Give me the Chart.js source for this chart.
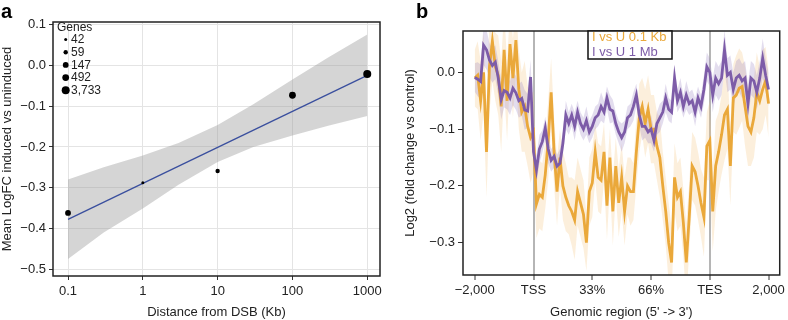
<!DOCTYPE html>
<html>
<head>
<meta charset="utf-8">
<script src="https://cdn.jsdelivr.net/npm/chart.js@4.4.1/dist/chart.umd.min.js"></script>
<style>
  html, body { margin: 0; padding: 0; background: #fff; }
  #wrap { position: relative; width: 788px; height: 320px; }
  #wrap canvas { position: absolute; top: 0; }
  #chartA { left: 0; }
  #chartB { left: 394px; }
</style>
</head>
<body>
<div id="wrap">
  <canvas id="chartA" width="394" height="320"></canvas>
  <canvas id="chartB" width="394" height="320"></canvas>
</div>
<script>
// ---- panel a: mean logFC by distance from DSB ----
const distKb = [0.1, 1, 10, 100, 1000];
const meanLogFC = [-0.362, -0.288, -0.259, -0.073, -0.021];
const geneCounts = [147, 42, 59, 492, 3733];
const legendCounts = [42, 59, 147, 492, 3733];
const fitX = [0.1, 1000];
const fitY = [-0.378, -0.024];
const bandX = [0.1, 0.3, 1, 3, 10, 30, 100, 300, 1000];
const bandUpper = [-0.280, -0.250, -0.221, -0.190, -0.146, -0.095, -0.034, 0.020, 0.076];
const bandLower = [-0.475, -0.410, -0.351, -0.293, -0.237, -0.200, -0.172, -0.148, -0.124];
const xTicksA = [0.1, 1, 10, 100, 1000];
const xTickLabelsA = ['0.1', '1', '10', '100', '1000'];
const yTicksA = [0.1, 0, -0.1, -0.2, -0.3, -0.4, -0.5];

// ---- panel b: profile over genomic region ----
const regionTicks = [0, 1, 2, 3, 4, 5];
const regionLabels = ['\u22122,000', 'TSS', '33%', '66%', 'TES', '2,000'];
const yTicksB = [0, -0.1, -0.2, -0.3];
const seriesNames = ['I vs U 0.1 Kb', 'I vs U 1 Mb'];
const orangeValues = [
  -0.010, -0.005, -0.050, 0.000, -0.140, 0.010, 0.055, 0.010, -0.005, -0.060,
  0.040, -0.050, 0.050, -0.010, 0.057, -0.030, -0.070, -0.060, -0.095, -0.115,
  -0.105, -0.232, -0.215, -0.220, -0.180, -0.120, -0.035, -0.140, -0.210, -0.150,
  -0.200, -0.220, -0.235, -0.245, -0.260, -0.210, -0.230, -0.250, -0.300, -0.210,
  -0.195, -0.140, -0.185, -0.190, -0.140, -0.235, -0.150, -0.245, -0.165, -0.230,
  -0.185, -0.245, -0.200, -0.210, -0.210, -0.140, -0.080, -0.060, -0.090, -0.065,
  -0.100, -0.100, -0.130, -0.150, -0.200, -0.245, -0.300, -0.335, -0.185, -0.220,
  -0.210, -0.265, -0.335, -0.255, -0.165, -0.175, -0.200, -0.230, -0.255, -0.130,
  -0.120, -0.245, -0.165, -0.140, -0.110, -0.075, -0.065, -0.165, -0.045, -0.040,
  -0.028, -0.025, -0.060, -0.095, -0.105, -0.080, -0.035, -0.050, -0.030, -0.015,
  -0.055
];
const orangeSE = [
  0.05, 0.06, 0.07, 0.07, 0.08, 0.08, 0.07, 0.06, 0.07, 0.08,
  0.07, 0.07, 0.06, 0.07, 0.06, 0.07, 0.07, 0.08, 0.07, 0.08,
  0.07, 0.06, 0.06, 0.06, 0.06, 0.07, 0.06, 0.06, 0.06, 0.05,
  0.06, 0.06, 0.05, 0.06, 0.07, 0.06, 0.06, 0.06, 0.05, 0.06,
  0.06, 0.05, 0.06, 0.06, 0.05, 0.06, 0.05, 0.06, 0.05, 0.06,
  0.06, 0.06, 0.05, 0.06, 0.05, 0.06, 0.06, 0.05, 0.06, 0.06,
  0.06, 0.06, 0.06, 0.07, 0.06, 0.06, 0.07, 0.06, 0.06, 0.06,
  0.06, 0.06, 0.07, 0.06, 0.06, 0.06, 0.06, 0.06, 0.07, 0.06,
  0.07, 0.07, 0.08, 0.07, 0.07, 0.08, 0.07, 0.07, 0.06, 0.07,
  0.07, 0.06, 0.07, 0.07, 0.06, 0.07, 0.07, 0.06, 0.07, 0.06,
  0.06
];
const purpleValues = [
  -0.009, -0.012, -0.016, 0.048, 0.040, 0.022, 0.012, 0.018, -0.010, -0.048,
  -0.032, -0.035, -0.045, -0.028, -0.036, -0.050, -0.046, -0.066, -0.068, -0.008,
  -0.140, -0.172, -0.135, -0.122, -0.098, -0.135, -0.155, -0.148, -0.165, -0.160,
  -0.125, -0.075, -0.090, -0.075, -0.095, -0.070, -0.090, -0.100, -0.085, -0.105,
  -0.095, -0.080, -0.075, -0.060, -0.070, -0.045, -0.065, -0.068, -0.090, -0.105,
  -0.115, -0.105, -0.080, -0.075, -0.060, -0.040, -0.075, -0.095, -0.095, -0.105,
  -0.100, -0.120, -0.090, -0.080, -0.070, -0.045, -0.065, -0.070, -0.010, -0.050,
  -0.035, -0.060, -0.040, -0.055, -0.050, -0.070, -0.045, -0.060, -0.030, 0.010,
  0.000, -0.040, -0.010, -0.020, -0.010, 0.040, -0.005, 0.000, -0.030, -0.010,
  -0.005, -0.015, -0.010, -0.055, -0.010, -0.015, -0.035, -0.010, 0.025, -0.005,
  -0.030
];
const purpleSE = [
  0.025, 0.03, 0.03, 0.035, 0.035, 0.03, 0.03, 0.03, 0.03, 0.035,
  0.03, 0.03, 0.03, 0.03, 0.03, 0.03, 0.03, 0.035, 0.03, 0.03,
  0.03, 0.025, 0.025, 0.02, 0.02, 0.025, 0.02, 0.02, 0.02, 0.025,
  0.02, 0.025, 0.02, 0.02, 0.025, 0.02, 0.02, 0.02, 0.025, 0.02,
  0.02, 0.02, 0.02, 0.025, 0.02, 0.02, 0.025, 0.02, 0.02, 0.02,
  0.025, 0.02, 0.02, 0.02, 0.025, 0.02, 0.02, 0.025, 0.02, 0.02,
  0.025, 0.02, 0.02, 0.025, 0.02, 0.025, 0.02, 0.02, 0.025, 0.02,
  0.025, 0.02, 0.025, 0.02, 0.02, 0.025, 0.02, 0.02, 0.025, 0.025,
  0.025, 0.03, 0.03, 0.03, 0.03, 0.035, 0.03, 0.03, 0.03, 0.03,
  0.03, 0.03, 0.03, 0.035, 0.03, 0.03, 0.03, 0.03, 0.035, 0.03,
  0.03
];

// styles
const FONT = "'Liberation Sans', Arial, Helvetica, sans-serif";
Chart.defaults.font.family = FONT;
Chart.defaults.font.size = 13;
Chart.defaults.color = '#222';
const dotRadius = {42: 1.5, 59: 2.2, 147: 2.9, 492: 3.4, 3733: 4.0};
const ORANGE = 'rgb(234,168,58)';
const PURPLE = 'rgb(125,92,168)';

// bins are evenly spaced, 20 per axis unit
const binPos = orangeValues.map((_, i) => i / 20);
const pts = (xs, ys) => xs.map((x, i) => ({x: x, y: ys[i]}));
const fmtY = v => (v < 0 ? '\u2212' : '') + Math.abs(v).toFixed(1);

const framePlugin = {
  id: 'frame',
  afterDatasetsDraw(chart) {
    const {ctx, chartArea: a} = chart;
    ctx.save();
    ctx.strokeStyle = '#222';
    ctx.lineWidth = 1.5;
    ctx.strokeRect(a.left, a.top, a.right - a.left, a.bottom - a.top);
    ctx.restore();
  }
};

function letterPlugin(letter, x, y) {
  return {
    id: 'letter',
    afterDraw(chart) {
      const ctx = chart.ctx;
      ctx.save();
      ctx.font = 'bold 20px ' + FONT;
      ctx.fillStyle = '#000';
      ctx.fillText(letter, x, y);
      ctx.restore();
    }
  };
}

const genesLegend = {
  id: 'genesLegend',
  afterDraw(chart) {
    const {ctx, chartArea: a} = chart;
    ctx.save();
    ctx.font = '12px ' + FONT;
    ctx.fillStyle = '#222';
    ctx.textBaseline = 'middle';
    ctx.fillText('Genes', a.left + 4, a.top + 5.5);
    legendCounts.forEach((n, i) => {
      const y = a.top + 17.5 + i * 12.7;
      ctx.beginPath();
      ctx.arc(a.left + 12.7, y, dotRadius[n], 0, Math.PI * 2);
      ctx.fillStyle = '#000';
      ctx.fill();
      ctx.fillStyle = '#222';
      ctx.fillText(n.toLocaleString('en-US'), a.left + 18, y + 0.5);
    });
    ctx.restore();
  }
};

const boxLegend = {
  id: 'boxLegend',
  afterDraw(chart) {
    const {ctx, chartArea: a} = chart;
    const x0 = a.left + 125, y0 = a.top, w = 84, h = 28;
    ctx.save();
    ctx.fillStyle = '#fff';
    ctx.fillRect(x0, y0, w, h);
    ctx.strokeStyle = '#111';
    ctx.lineWidth = 1.5;
    ctx.strokeRect(x0, y0, w, h);
    ctx.font = '13px ' + FONT;
    ctx.textBaseline = 'middle';
    ctx.fillStyle = ORANGE;
    ctx.fillText(seriesNames[0], x0 + 4, y0 + 6.5);
    ctx.fillStyle = PURPLE;
    ctx.fillText(seriesNames[1], x0 + 4, y0 + 21);
    ctx.restore();
  }
};

// ---------- chart a ----------
new Chart(document.getElementById('chartA'), {
  type: 'line',
  data: {
    datasets: [
      {
        data: pts(bandX, bandUpper), fill: '+1', order: 4,
        backgroundColor: 'rgba(150,150,150,0.4)', borderColor: 'transparent',
        pointRadius: 0, tension: 0
      },
      {
        data: pts(bandX, bandLower), fill: false, order: 5,
        borderColor: 'transparent', pointRadius: 0, tension: 0
      },
      {
        data: pts(fitX, fitY), order: 2, borderColor: '#3a4f9e', borderWidth: 1.3,
        pointRadius: 0, fill: false
      },
      {
        data: pts(distKb, meanLogFC), order: 1, showLine: false,
        pointRadius: geneCounts.map(n => dotRadius[n]),
        pointBackgroundColor: '#000', pointBorderWidth: 0, pointBorderColor: '#000'
      }
    ]
  },
  options: {
    responsive: false,
    animation: false,
    events: [],
    layout: {padding: {top: 22, right: 14, left: 0, bottom: 0}},
    plugins: {legend: {display: false}, tooltip: {enabled: false}},
    scales: {
      x: {
        type: 'logarithmic',
        min: 0.063, max: 1480,
        afterBuildTicks: s => { s.ticks = xTicksA.map(v => ({value: v})); },
        afterFit: s => { s.height = 44; },
        ticks: {
          autoSkip: false, maxRotation: 0, padding: 4,
          callback: v => xTickLabelsA[xTicksA.indexOf(v)] ?? ''
        },
        grid: {color: '#e4e4e4', lineWidth: 1, tickColor: '#333', tickLength: 4, tickWidth: 1},
        border: {display: false},
        title: {display: true, text: 'Distance from DSB (Kb)', padding: {top: 0, bottom: 0}}
      },
      y: {
        min: -0.517, max: 0.107,
        afterBuildTicks: s => { s.ticks = yTicksA.map(v => ({value: v})); },
        afterFit: s => { s.width = 53; },
        ticks: {padding: 3, callback: v => fmtY(v)},
        grid: {color: '#e4e4e4', lineWidth: 1, tickColor: '#333', tickLength: 4, tickWidth: 1},
        border: {display: false},
        title: {display: true, text: 'Mean LogFC induced vs uninduced', padding: {top: 0, bottom: 0}}
      }
    }
  },
  plugins: [framePlugin, genesLegend, letterPlugin('a', 1, 18)]
});

// ---------- chart b ----------
const band = (vals, se, sign) => vals.map((v, i) => v + sign * se[i]);

new Chart(document.getElementById('chartB'), {
  type: 'line',
  data: {
    datasets: [
      {
        data: pts(binPos, band(orangeValues, orangeSE, 1)), fill: '+1', order: 10,
        backgroundColor: 'rgba(246,203,140,0.3)', borderColor: 'transparent',
        pointRadius: 0, tension: 0
      },
      {
        data: pts(binPos, band(orangeValues, orangeSE, -1)), fill: false, order: 11,
        borderColor: 'transparent', pointRadius: 0, tension: 0
      },
      {
        data: pts(binPos, band(purpleValues, purpleSE, 1)), fill: '+1', order: 8,
        backgroundColor: 'rgba(155,132,195,0.28)', borderColor: 'transparent',
        pointRadius: 0, tension: 0
      },
      {
        data: pts(binPos, band(purpleValues, purpleSE, -1)), fill: false, order: 9,
        borderColor: 'transparent', pointRadius: 0, tension: 0
      },
      {
        label: seriesNames[0], data: pts(binPos, orangeValues), order: 2,
        borderColor: ORANGE, borderWidth: 2.8, pointRadius: 0, tension: 0, fill: false
      },
      {
        label: seriesNames[1], data: pts(binPos, purpleValues), order: 1,
        borderColor: PURPLE, borderWidth: 2.8, pointRadius: 0, tension: 0, fill: false
      }
    ]
  },
  options: {
    responsive: false,
    animation: false,
    events: [],
    layout: {padding: {top: 31, right: 5, left: 0, bottom: 0}},
    plugins: {legend: {display: false}, tooltip: {enabled: false}},
    scales: {
      x: {
        type: 'linear',
        min: -0.2, max: 5.19,
        afterBuildTicks: s => { s.ticks = regionTicks.map(v => ({value: v})); },
        afterFit: s => { s.height = 45; },
        ticks: {
          autoSkip: false, maxRotation: 0, padding: 3,
          callback: v => regionLabels[regionTicks.indexOf(v)] ?? ''
        },
        grid: {
          color: c => (c.tick && (c.tick.value === 1 || c.tick.value === 4)) ? '#b5b5b5' : 'transparent',
          lineWidth: 2, tickColor: '#333', tickLength: 5, tickWidth: 1
        },
        border: {display: false},
        title: {display: true, text: "Genomic region (5' -> 3')", padding: {top: 0, bottom: 0}}
      },
      y: {
        min: -0.357, max: 0.073,
        afterBuildTicks: s => { s.ticks = yTicksB.map(v => ({value: v})); },
        afterFit: s => { s.width = 69; },
        ticks: {padding: 3, callback: v => fmtY(v)},
        grid: {drawOnChartArea: false, tickColor: '#333', tickLength: 5, tickWidth: 1},
        border: {display: false},
        title: {display: true, text: 'Log2 (fold change vs control)', padding: {top: 9, bottom: 0}}
      }
    }
  },
  plugins: [framePlugin, boxLegend, letterPlugin('b', 22, 18)]
});
</script>
</body>
</html>
